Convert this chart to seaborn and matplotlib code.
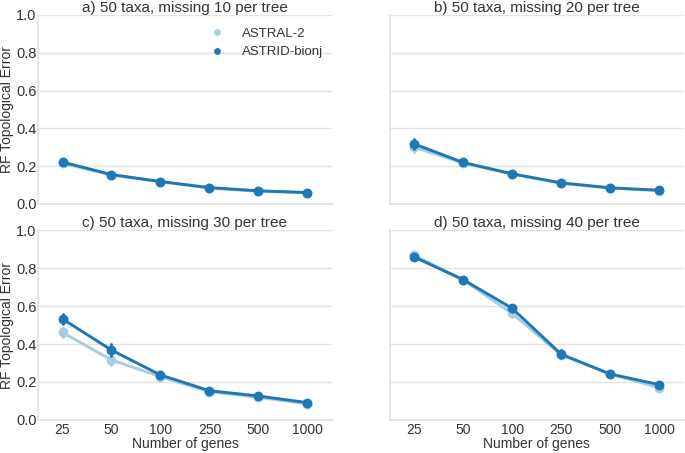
import numpy as np
import pandas as pd
import matplotlib
matplotlib.use("Agg")
import matplotlib.pyplot as plt
import seaborn as sns

# =========================================
# DATA
# =========================================

genes = ["25", "50", "100", "250", "500", "1000"]
methods = ["ASTRAL-2", "ASTRID-bionj"]
panel_titles = [
    "a) 50 taxa, missing 10 per tree",
    "b) 50 taxa, missing 20 per tree",
    "c) 50 taxa, missing 30 per tree",
    "d) 50 taxa, missing 40 per tree",
]

# mean RF error per panel
astral_a = [0.215, 0.152, 0.118, 0.083, 0.067, 0.058]
astrid_a = [0.221, 0.155, 0.118, 0.086, 0.069, 0.060]
astral_b = [0.300, 0.215, 0.157, 0.108, 0.083, 0.070]
astrid_b = [0.317, 0.219, 0.159, 0.111, 0.085, 0.072]
astral_c = [0.461, 0.316, 0.228, 0.149, 0.119, 0.084]
astrid_c = [0.532, 0.368, 0.237, 0.154, 0.126, 0.091]
astral_d = [0.868, 0.737, 0.561, 0.342, 0.242, 0.170]
astrid_d = [0.858, 0.739, 0.588, 0.346, 0.242, 0.186]

# half width of the confidence intervals
err_astral_a = [0.015, 0.008, 0.007, 0.006, 0.005, 0.004]
err_astrid_a = [0.015, 0.008, 0.007, 0.006, 0.005, 0.004]
err_astral_b = [0.025, 0.012, 0.008, 0.006, 0.005, 0.005]
err_astrid_b = [0.025, 0.012, 0.008, 0.006, 0.005, 0.005]
err_astral_c = [0.025, 0.025, 0.015, 0.008, 0.008, 0.006]
err_astrid_c = [0.025, 0.030, 0.015, 0.008, 0.008, 0.006]
err_astral_d = [0.012, 0.015, 0.020, 0.018, 0.012, 0.010]
err_astrid_d = [0.012, 0.015, 0.020, 0.020, 0.012, 0.010]

panels = [
    (astral_a, astrid_a, err_astral_a, err_astrid_a),
    (astral_b, astrid_b, err_astral_b, err_astrid_b),
    (astral_c, astrid_c, err_astral_c, err_astrid_c),
    (astral_d, astrid_d, err_astral_d, err_astrid_d),
]

# =========================================
# SETTINGS
# =========================================

sns.set_theme(style="whitegrid")
plt.rcParams["font.family"] = ["Liberation Sans", "DejaVu Sans"]
plt.rcParams["text.color"] = "#333333"
plt.rcParams["axes.labelcolor"] = "#333333"
plt.rcParams["xtick.color"] = "#333333"
plt.rcParams["ytick.color"] = "#333333"

colors = sns.color_palette("Paired", 2)


def long_table(astral, astrid, e_astral, e_astrid):
    # three values per point: low, centre, high -> mean is centre, min/max the bar
    rows = []
    for method, vals, errs in [("ASTRAL-2", astral, e_astral),
                               ("ASTRID-bionj", astrid, e_astrid)]:
        for g, v, e in zip(genes, vals, errs):
            for k in (-1, 0, 1):
                rows.append({"genes": g, "method": method, "rf": v + k * e})
    return pd.DataFrame(rows)


fig = plt.figure(figsize=(6.85, 4.53), dpi=100)
boxes = [
    [0.0555, 0.550, 0.429, 0.417],
    [0.569, 0.550, 0.429, 0.417],
    [0.0555, 0.073, 0.429, 0.419],
    [0.569, 0.073, 0.429, 0.419],
]

for i, (box, data) in enumerate(zip(boxes, panels)):
    ax = fig.add_axes(box)
    df = long_table(*data)
    sns.pointplot(
        data=df, x="genes", y="rf", hue="method",
        order=genes, hue_order=methods, palette=colors,
        estimator="mean", errorbar=lambda x: (x.min(), x.max()),
        markers="o", markersize=5.5, linewidth=2.1, err_kws={"linewidth": 2.1},
        ax=ax,
    )
    ax.set_ylim(0, 1.0)
    ax.set_yticks([0.0, 0.2, 0.4, 0.6, 0.8, 1.0])
    ax.set_title(panel_titles[i], fontsize=11, pad=2)
    ax.grid(axis="x", visible=False)
    ax.grid(axis="y", color="#e3e3e3", linewidth=1)
    sns.despine(ax=ax)
    for s in ["left", "bottom"]:
        ax.spines[s].set_color("#e3e3e3")
    ax.tick_params(axis="y", labelsize=10.5, length=0, pad=1)
    ax.tick_params(axis="x", labelsize=10, length=0, pad=2.5)

    if i % 2 == 0:
        ax.set_ylabel("RF Topological Error", fontsize=10)
        ax.yaxis.set_label_coords(-0.082, 0.5)
    else:
        ax.set_ylabel("")
        ax.set_yticklabels([])
    if i >= 2:
        ax.set_xlabel("Number of genes", fontsize=10, labelpad=0)
    else:
        ax.set_xlabel("")
        ax.set_xticklabels([])

    if i == 0:
        leg = ax.legend(loc="upper right", bbox_to_anchor=(1.01, 0.997),
                        frameon=False, fontsize=9.5, handletextpad=0.9,
                        markerscale=0.6)
        for h in leg.legend_handles:
            h.set_linestyle("")
    else:
        ax.get_legend().remove()

plt.savefig("out.png", dpi=100)
plt.close()
